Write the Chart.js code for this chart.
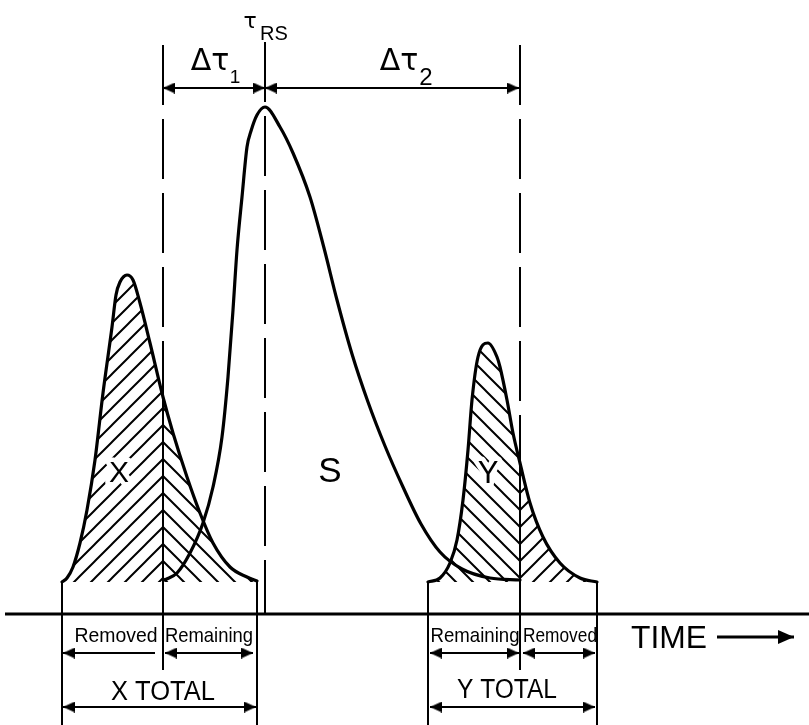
<!DOCTYPE html>
<html>
<head>
<meta charset="utf-8">
<script src="https://cdn.jsdelivr.net/npm/chart.js@4/dist/chart.umd.min.js"></script>
<style>
html,body{margin:0;padding:0;background:#fff}
canvas{display:block}
</style>
</head>
<body>
<canvas id="chart" width="809" height="725"></canvas>
<script>
// ------------------------------------------
// values (time, signal)
// ------------------------------------------
const peakX=[[62,32],[67,36],[73,47],[80,71],[87,104],[95,154],[103,221],[112,287],[116,319],[120,332],[127,339],[133,334],[140,311],[150,271],[163,217],[173,181],[187,137],[200,101],[213,71],[230,47],[247,37],[257,33]];
const peakS=[[165,34],[177,41],[190,61],[203,91],[213,127],[222,177],[228,237],[233,304],[237,364],[242,417],[247,467],[251,483],[257,499],[265,507],[280,487],[293,461],[310,417],[324,366],[337,314],[352,260],[368,212],[385,168],[403,127],[421,90],[440,62],[462,45],[490,36],[520,34]];
const peakY=[[428,32],[440,36],[450,51],[457,74],[463,114],[468,164],[472,214],[478,257],[488,271],[497,257],[500,247],[507,214],[513,181],[520,151],[530,111],[543,77],[560,51],[580,36],[597,32]];

const baseLevel=32;          // raised baseline the peaks sit on
const cutX=163, cutY=520;    // cut times
const tauRS=265;             // retention of S
const guideTop=569, tauTop=572, cutBottom=-56, floor=-111;
const axisStart=5, axisEnd=809;

// dimension arrows: [start, end, level, head at start, head at end]
const dims=[
[163,265,526,1,1],
[265,519,526,1,1],
[63,155,-39,1,0],
[165,253,-39,1,1],
[63,256,-93,1,1],
[430,519,-39,1,1],
[523,595,-39,1,1],
[430,595,-93,1,1]
];
const timeArrow=[717,794,-23];

// text notes
const notes=[
{t:"τ",x:250,y:586,font:"22px 'DejaVu Sans'"},
{t:"RS",x:274,y:574,font:"20px 'Liberation Sans'"},
{t:"Δτ",x:210,y:544,font:"30px 'DejaVu Sans'"},
{t:"1",x:235,y:531,font:"19px 'Liberation Sans'"},
{t:"Δτ",x:399,y:544,font:"30px 'DejaVu Sans'"},
{t:"2",x:426,y:529,font:"24px 'Liberation Sans'"},
{t:"X",x:119,y:132,font:"30px 'Liberation Sans'",halo:true},
{t:"S",x:330,y:132,font:"35px 'Liberation Sans'"},
{t:"Y",x:488,y:131,font:"31px 'Liberation Sans'",halo:true},
{t:"Removed",x:116,y:-28,font:"21px 'Liberation Sans'",w:83},
{t:"Remaining",x:209,y:-28,font:"21px 'Liberation Sans'",w:88},
{t:"Remaining",x:475,y:-28,font:"21px 'Liberation Sans'",w:89},
{t:"Removed",x:560,y:-28,font:"21px 'Liberation Sans'",w:74},
{t:"X TOTAL",x:163,y:-86,font:"27px 'Liberation Sans'",w:104},
{t:"Y TOTAL",x:507,y:-84,font:"27px 'Liberation Sans'",w:100},
{t:"TIME",x:669,y:-34,font:"32px 'Liberation Sans'",w:76}
];

// ------------------------------------------
// helpers
// ------------------------------------------
const pts=a=>a.map(p=>({x:p[0],y:p[1]}));
const at=(a,t)=>a.find(p=>p[0]===t)[1];

function hatch(dir){
  const P=17,c=document.createElement("canvas");
  c.width=P;c.height=P;
  const g=c.getContext("2d");
  g.strokeStyle="#000";g.lineWidth=2;g.beginPath();
  if(dir==="/"){
    g.moveTo(-2,P+2);g.lineTo(P+2,-2);
    g.moveTo(-2,2);g.lineTo(2,-2);
    g.moveTo(P-2,P+2);g.lineTo(P+2,P-2);
  }else{
    g.moveTo(-2,-2);g.lineTo(P+2,P+2);
    g.moveTo(-2,P-2);g.lineTo(2,P+2);
    g.moveTo(P-2,-2);g.lineTo(P+2,2);
  }
  g.stroke();
  return g.createPattern(c,"repeat");
}

const patXL=hatch("/"),patXR=hatch("\\"),patYL=hatch("\\"),patYR=hatch("/");

function headImg(L,W){
  const c=document.createElement("canvas");
  c.width=2*L;c.height=2*W;
  const g=c.getContext("2d");
  g.fillStyle="#000";g.beginPath();
  g.moveTo(0,0);g.lineTo(L,W);g.lineTo(0,2*W);g.closePath();g.fill();
  return c;
}
const head=headImg(12,5.5);
const bigHead=headImg(16,7);

const curveStyle={borderColor:"#000",borderWidth:3.2,fill:false,cubicInterpolationMode:"monotone",borderCapStyle:"round",borderJoinStyle:"round"};
const hatchStyle={borderWidth:0,borderColor:"rgba(0,0,0,0)",fill:{value:baseLevel},cubicInterpolationMode:"monotone"};
const thin={borderColor:"#000",borderWidth:2,fill:false,tension:0};

const dash=[60,14];

let datasets=[
{...hatchStyle,data:pts(peakX.filter(p=>p[0]<=cutX)),backgroundColor:patXL},
{...hatchStyle,data:pts(peakX.filter(p=>p[0]>=cutX)),backgroundColor:patXR},
{...hatchStyle,data:pts(peakY.filter(p=>p[0]<=cutY)),backgroundColor:patYL},
{...hatchStyle,data:pts(peakY.filter(p=>p[0]>=cutY)),backgroundColor:patYR},
{...curveStyle,data:pts(peakX)},
{...curveStyle,data:pts(peakS)},
{...curveStyle,data:pts(peakY)},
// axis
{...thin,borderWidth:3,data:[{x:axisStart,y:0},{x:axisEnd,y:0}]},
// peak edges down to the bottom
{...thin,data:[{x:peakX[0][0],y:peakX[0][1]},{x:peakX[0][0],y:floor}]},
{...thin,data:[{x:peakX[peakX.length-1][0],y:peakX[peakX.length-1][1]},{x:peakX[peakX.length-1][0],y:floor}]},
{...thin,data:[{x:peakY[0][0],y:peakY[0][1]},{x:peakY[0][0],y:floor}]},
{...thin,data:[{x:peakY[peakY.length-1][0],y:peakY[peakY.length-1][1]},{x:peakY[peakY.length-1][0],y:floor}]},
// cut lines: dashed above the peak, solid through it
{...thin,data:[{x:cutX,y:guideTop},{x:cutX,y:at(peakX,cutX)}],borderDash:dash},
{...thin,data:[{x:cutX,y:at(peakX,cutX)},{x:cutX,y:cutBottom}]},
{...thin,data:[{x:cutY,y:guideTop},{x:cutY,y:at(peakY,cutY)}],borderDash:dash},
{...thin,data:[{x:cutY,y:at(peakY,cutY)},{x:cutY,y:cutBottom}]},
// tau RS
{...thin,data:[{x:tauRS,y:tauTop},{x:tauRS,y:0}],borderDash:dash},
// TIME arrow
{...thin,borderWidth:3,data:[{x:timeArrow[0],y:timeArrow[2]},{x:timeArrow[1],y:timeArrow[2]}],
  pointStyle:bigHead,pointRadius:[0,3],pointBorderWidth:0,pointRotation:[180,0]}
];

dims.forEach(d=>{
  datasets.push({
    ...thin,
    data:[{x:d[0],y:d[2]},{x:d[1],y:d[2]}],
    pointStyle:head,
    pointRadius:[d[3]?3:0,d[4]?3:0],
    pointBorderWidth:0,
    pointRotation:[180,0]
  });
});

// keep hatch lines meeting on each cut line
const hatchAlign={
  id:"hatchAlign",
  beforeDatasetsDraw(chart){
    const px=chart.scales.x.getPixelForValue(cutX);
    const qx=chart.scales.x.getPixelForValue(cutY);
    const m1=new DOMMatrix([1,0,0,1,px,0]);
    const m2=new DOMMatrix([1,0,0,1,qx,0]);
    patXL.setTransform(m1);patXR.setTransform(m1);
    patYL.setTransform(m2);patYR.setTransform(m2);
  }
};

const texts={
  id:"texts",
  afterDatasetsDraw(chart){
    const {ctx,scales:{x,y}}=chart;
    ctx.save();
    ctx.textAlign="center";
    ctx.textBaseline="alphabetic";
    notes.forEach(n=>{
      ctx.font=n.font;
      const px=x.getPixelForValue(n.x),py=y.getPixelForValue(n.y);
      if(n.halo){
        ctx.strokeStyle="#fff";ctx.lineWidth=9;ctx.lineJoin="round";
        ctx.strokeText(n.t,px,py);
      }
      ctx.fillStyle="#000";
      if(n.w) ctx.fillText(n.t,px,py,n.w);
      else ctx.fillText(n.t,px,py);
    });
    ctx.restore();
  }
};

new Chart(document.getElementById("chart"),{
  type:"line",
  data:{datasets:datasets},
  options:{
    responsive:false,
    animation:false,
    layout:{padding:0,autoPadding:false},
    elements:{point:{radius:0,hoverRadius:0}},
    plugins:{legend:{display:false},tooltip:{enabled:false}},
    events:[],
    scales:{
      x:{type:"linear",min:0,max:809,display:false},
      y:{type:"linear",min:floor,max:614,display:false}
    }
  },
  plugins:[hatchAlign,texts]
});
</script>
</body>
</html>
